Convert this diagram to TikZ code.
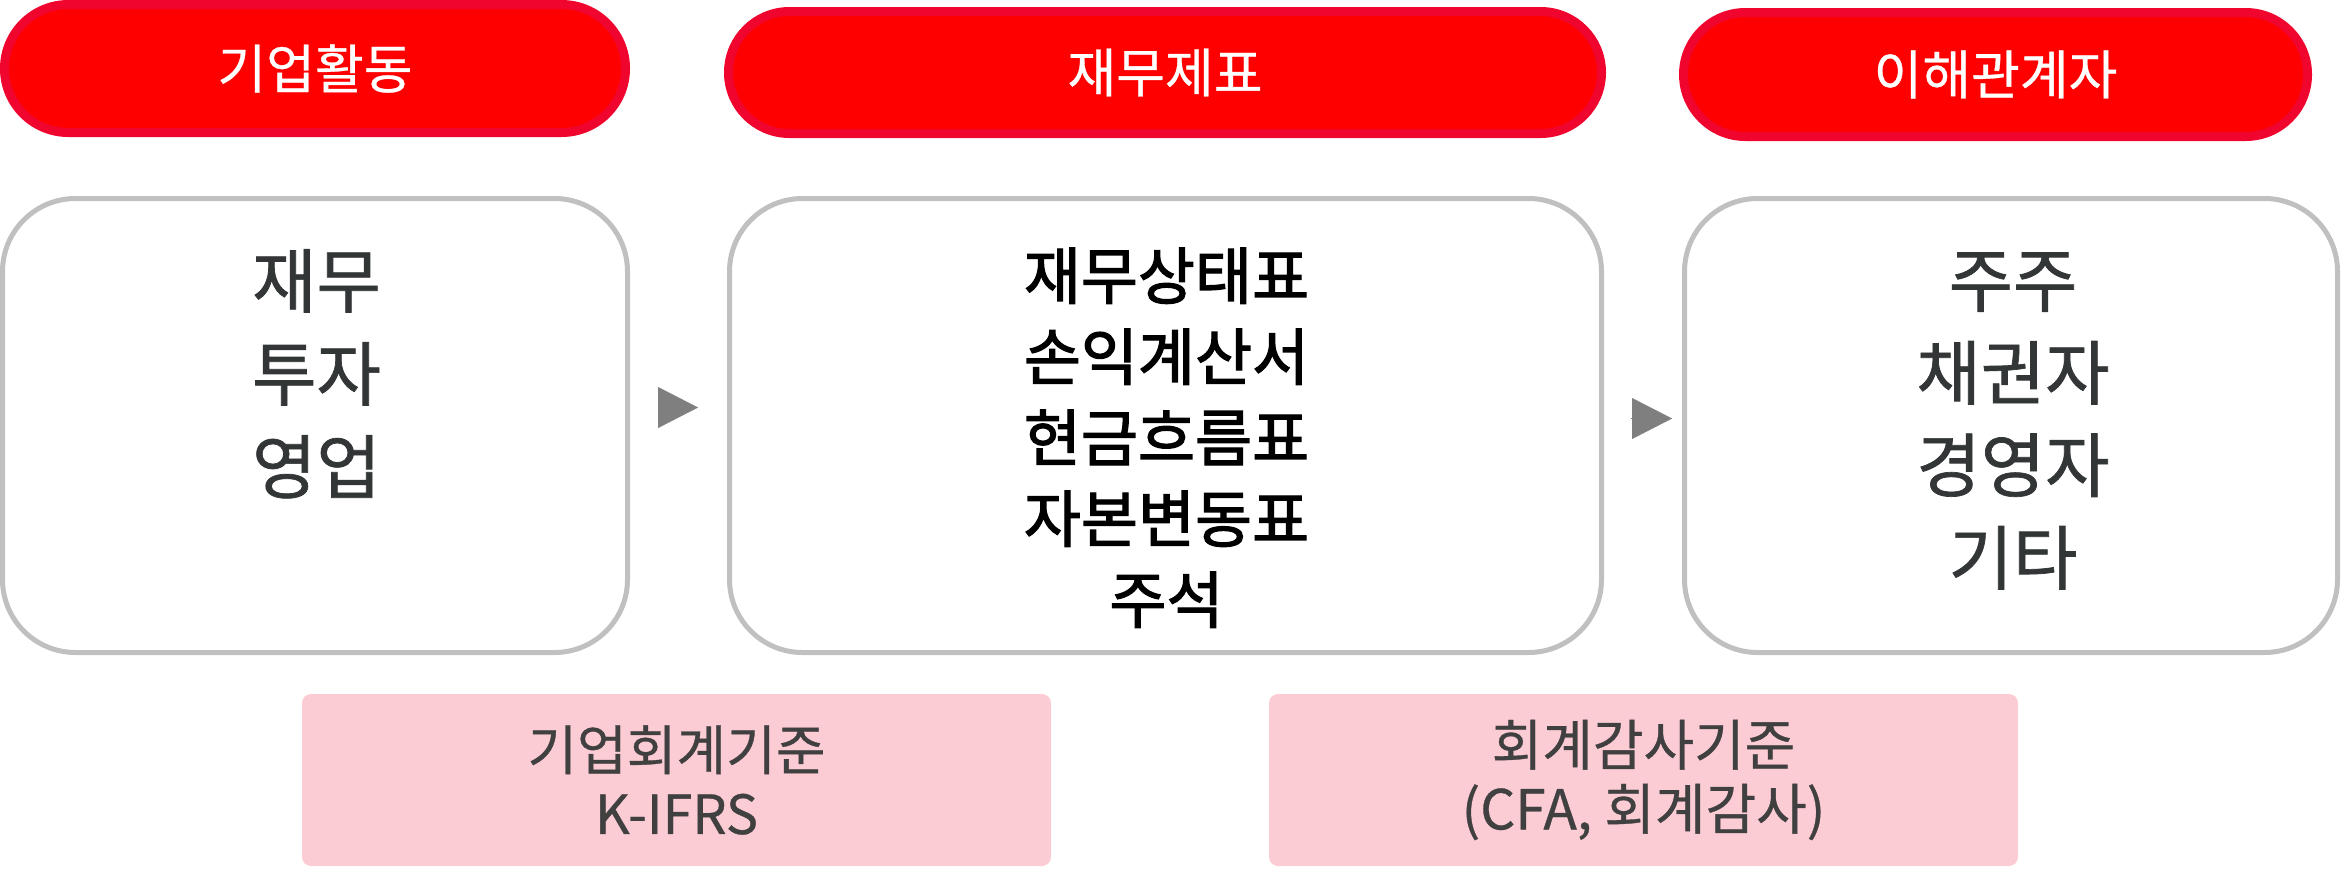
\documentclass[tikz,border=0pt]{standalone}
\usepackage{fontspec}
\setmainfont{Noto Sans CJK KR}
\newfontfamily\fbA{Noto Sans CJK KR}[FakeBold=2.0]
\newfontfamily\fbB{Noto Sans CJK KR}[FakeBold=1.0]
\newfontfamily\fbC{Noto Sans CJK KR}[FakeBold=0.6]
\usetikzlibrary{arrows.meta}
\definecolor{headfill}{HTML}{FF0000}
\definecolor{headline}{HTML}{F0052F}
\definecolor{boxline}{HTML}{C0C0C0}
\definecolor{darktext}{HTML}{333637}
\definecolor{arrowc}{HTML}{7F7F7F}
\definecolor{pinkfill}{HTML}{FCCCD5}
\definecolor{pinktext}{HTML}{404040}
\begin{document}
\begin{tikzpicture}[x=1pt,y=-1pt,
  head/.style={draw=headline, fill=headfill, line width=9pt, outer sep=0pt, inner sep=0pt,
    text=white, font=\fbC\fontsize{53pt}{60pt}\selectfont},
  card/.style={draw=boxline, fill=white, line width=5pt, outer sep=0pt, inner sep=0pt,
    minimum height=454pt, rounded corners=73pt},
  bigtxt/.style={inner sep=0pt, align=center, text=darktext, font=\fbB\fontsize{70pt}{93pt}\selectfont},
  midtxt/.style={inner sep=0pt, align=center, text=black, font=\fbA\fontsize{62pt}{81pt}\selectfont},
  pinkbox/.style={fill=pinkfill, draw=none, inner sep=0pt, outer sep=0pt, rounded corners=9pt,
    minimum width=749pt, minimum height=172pt, align=center, text=pinktext},
  conn/.style={draw=arrowc, fill=arrowc, line width=0.1pt, -{Triangle[length=40pt,width=41pt]}}
]
\useasboundingbox (0,0) rectangle (2342,879);

% headers
\node[head, minimum width=621pt, minimum height=128pt, rounded corners=63.9pt] (h1) at (315,68.5) {기업활동};
\node[head, minimum width=873pt, minimum height=122pt, rounded corners=60.9pt] (h2) at (1165,72.5) {재무제표};
\node[head, minimum width=624pt, minimum height=124pt, rounded corners=61.9pt] (h3) at (1995.5,74.5) {이해관계자};

% cards
\node[card, minimum width=625pt] (b1) at (315,425.5) {};
\node[card, minimum width=872pt] (b2) at (1165.5,425.5) {};
\node[card, minimum width=653pt] (b3) at (2011,425.5) {};

\node[bigtxt] (t1) at (316.5,373.75) {재무\\투자\\영업};
\node[midtxt] (t2) at (1166.5,437.75) {재무상태표\\손익계산서\\현금흐름표\\자본변동표\\주석};
\node[bigtxt, font=\fbB\fontsize{70pt}{92.5pt}\selectfont] (t3) at (2013,421) {주주\\채권자\\경영자\\기타};

% connectors
\draw[conn] ([shift={(30.5,-18)}]b1.east) -- ([shift={(-31.5,-18)}]b2.west);
\draw[conn] ([shift={(29.5,-7)}]b2.east) -- ([shift={(-12.5,-7)}]b3.west);

% standards
\node[pinkbox, font=\fbC\fontsize{54pt}{64pt}\selectfont] (p1) at (676.5,780) {기업회계기준\\K-IFRS};
\node[pinkbox, font=\fbC\fontsize{55pt}{64pt}\selectfont] (p2) at (1643.5,780) {회계감사기준\\(CFA, 회계감사)};
\end{tikzpicture}
\end{document}
